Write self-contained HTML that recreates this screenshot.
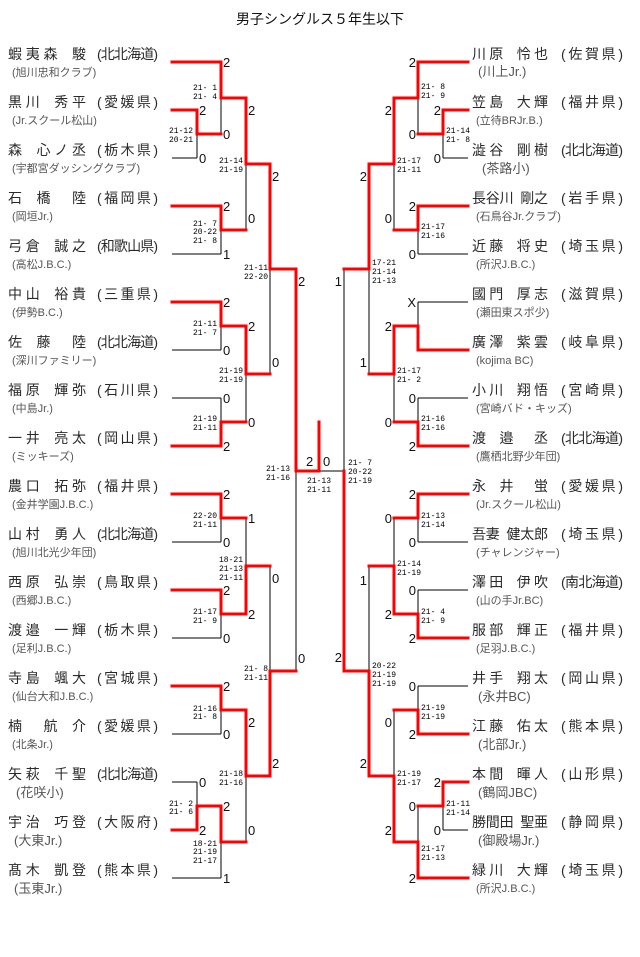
<!DOCTYPE html>
<html><head><meta charset="utf-8"><style>
html,body{margin:0;padding:0;background:#fff;}
svg{display:block;}
.nm{font-family:"Liberation Sans","Noto Sans CJK JP",sans-serif;font-size:14px;fill:#2a2a2a;}
.pf{font-family:"Liberation Sans","Noto Sans CJK JP",sans-serif;font-size:14px;fill:#2a2a2a;}
.cl{font-family:"Liberation Sans","Noto Sans CJK JP",sans-serif;font-size:11px;fill:#555;}
.lb{font-family:"Liberation Sans",sans-serif;font-size:13px;fill:#111;}
.sc{font-family:"Liberation Mono",monospace;font-size:8px;fill:#000;white-space:pre;}
.tt{font-family:"Liberation Sans","Noto Sans CJK JP",sans-serif;font-size:14px;fill:#111;}
</style></head><body>
<svg width="640" height="957" viewBox="0 0 640 957" xmlns="http://www.w3.org/2000/svg">
<text class="tt" x="320" y="24" text-anchor="middle">男子シングルス５年生以下</text>

<g stroke="#000" stroke-width="1" fill="none">
<path d="M172 62H221M172 110H197M172 158H197M172 206H221M172 254H221M172 302H221M172 350H221M172 398H221M172 446H221M172 494H221M172 542H221M172 590H221M172 638H221M172 686H221M172 734H221M172 782H197M172 830H197M172 878H221"/>
<path d="M197 110V158M197 782V830M221 62V134M221 206V254M221 302V350M221 398V446M221 494V542M221 590V638M221 686V734M221 806V878M246 98V230M246 326V422M246 518V614M246 710V842M270 164V374M270 566V776M296 269V671"/>
<path d="M197 134H221M197 806H221M221 98H246M221 230H246M221 326H246M221 422H246M221 518H246M221 614H246M221 710H246M221 842H246M246 164H270M246 374H270M246 566H270M246 776H270M270 269H296M270 671H296M296 471H344"/>
<path d="M468 62H418M468 110H443M468 158H443M468 206H418M468 254H418M468 302H418M468 350H418M468 398H418M468 446H418M468 494H418M468 542H418M468 590H418M468 638H418M468 686H418M468 734H418M468 782H443M468 830H443M468 878H418"/>
<path d="M443 110V158M443 782V830M418 62V134M418 206V254M418 302V350M418 398V446M418 494V542M418 590V638M418 686V734M418 806V878M394 98V230M394 326V422M394 518V614M394 710V842M369 164V374M369 566V776M344 269V671"/>
<path d="M443 134H418M443 806H418M418 98H394M418 230H394M418 326H394M418 422H394M418 518H394M418 614H394M418 710H394M418 842H394M394 164H369M394 374H369M394 566H369M394 776H369M369 269H344M369 671H344"/>
</g>

<g stroke="#f00" stroke-width="3" fill="none" stroke-linejoin="miter" stroke-linecap="square">
<path d="M172 62H221V98H246V164H270V269H296V471H319V422"/>
<path d="M172 110H197V134H221"/>
<path d="M172 206H221V230H246"/>
<path d="M172 302H221V326H246V374H270"/>
<path d="M172 446H221V422H246"/>
<path d="M172 494H221V518H246"/>
<path d="M172 590H221V614H246V566H270"/>
<path d="M172 686H221V710H246V776H270V671H296"/>
<path d="M172 830H197V806H221V842H246"/>
<path d="M468 62H418V98H394V164H369V269H344"/>
<path d="M468 110H443V134H418"/>
<path d="M468 206H418V230H394"/>
<path d="M468 350H418V326H394V374H369"/>
<path d="M468 446H418V422H394"/>
<path d="M468 494H418V518H394"/>
<path d="M468 638H418V614H394V566H369"/>
<path d="M468 734H418V710H394"/>
<path d="M468 782H443V806H418"/>
<path d="M468 878H418V842H394V776H369V671H344V471"/>
</g>

<!-- left names -->
<g>
<text class="nm" x="8" y="59" textLength="78" lengthAdjust="spacing">蝦夷森&#8194;駿</text><text class="pf" x="97" y="59" textLength="61" lengthAdjust="spacing">(北北海道)</text><text class="cl" x="12" y="76">(旭川忠和クラブ)</text>
<text class="nm" x="8" y="107" textLength="78" lengthAdjust="spacing">黒川&#8194;秀平</text><text class="pf" x="97" y="107" textLength="61" lengthAdjust="spacing">(愛媛県)</text><text class="cl" x="12" y="124">(Jr.スクール松山)</text>
<text class="nm" x="8" y="155" textLength="78" lengthAdjust="spacing">森&#8194;心ノ丞</text><text class="pf" x="97" y="155" textLength="61" lengthAdjust="spacing">(栃木県)</text><text class="cl" x="12" y="172">(宇都宮ダッシングクラブ)</text>
<text class="nm" x="8" y="203" textLength="78" lengthAdjust="spacing">石&#8194;橋&#8195;陸</text><text class="pf" x="97" y="203" textLength="61" lengthAdjust="spacing">(福岡県)</text><text class="cl" x="12" y="220">(岡垣Jr.)</text>
<text class="nm" x="8" y="251" textLength="78" lengthAdjust="spacing">弓倉&#8194;誠之</text><text class="pf" x="97" y="251" textLength="61" lengthAdjust="spacing">(和歌山県)</text><text class="cl" x="12" y="268">(高松J.B.C.)</text>
<text class="nm" x="8" y="299" textLength="78" lengthAdjust="spacing">中山&#8194;裕貴</text><text class="pf" x="97" y="299" textLength="61" lengthAdjust="spacing">(三重県)</text><text class="cl" x="12" y="316">(伊勢B.C.)</text>
<text class="nm" x="8" y="347" textLength="78" lengthAdjust="spacing">佐&#8194;藤&#8195;陸</text><text class="pf" x="97" y="347" textLength="61" lengthAdjust="spacing">(北北海道)</text><text class="cl" x="12" y="364">(深川ファミリー)</text>
<text class="nm" x="8" y="395" textLength="78" lengthAdjust="spacing">福原&#8194;輝弥</text><text class="pf" x="97" y="395" textLength="61" lengthAdjust="spacing">(石川県)</text><text class="cl" x="12" y="412">(中島Jr.)</text>
<text class="nm" x="8" y="443" textLength="78" lengthAdjust="spacing">一井&#8194;亮太</text><text class="pf" x="97" y="443" textLength="61" lengthAdjust="spacing">(岡山県)</text><text class="cl" x="12" y="460">(ミッキーズ)</text>
<text class="nm" x="8" y="491" textLength="78" lengthAdjust="spacing">農口&#8194;拓弥</text><text class="pf" x="97" y="491" textLength="61" lengthAdjust="spacing">(福井県)</text><text class="cl" x="12" y="508">(金井学園J.B.C.)</text>
<text class="nm" x="8" y="539" textLength="78" lengthAdjust="spacing">山村&#8194;勇人</text><text class="pf" x="97" y="539" textLength="61" lengthAdjust="spacing">(北北海道)</text><text class="cl" x="12" y="556">(旭川北光少年団)</text>
<text class="nm" x="8" y="587" textLength="78" lengthAdjust="spacing">西原&#8194;弘崇</text><text class="pf" x="97" y="587" textLength="61" lengthAdjust="spacing">(鳥取県)</text><text class="cl" x="12" y="604">(西郷J.B.C.)</text>
<text class="nm" x="8" y="635" textLength="78" lengthAdjust="spacing">渡邉&#8194;一輝</text><text class="pf" x="97" y="635" textLength="61" lengthAdjust="spacing">(栃木県)</text><text class="cl" x="12" y="652">(足利J.B.C.)</text>
<text class="nm" x="8" y="683" textLength="78" lengthAdjust="spacing">寺島&#8194;颯大</text><text class="pf" x="97" y="683" textLength="61" lengthAdjust="spacing">(宮城県)</text><text class="cl" x="12" y="700">(仙台大和J.B.C.)</text>
<text class="nm" x="8" y="731" textLength="78" lengthAdjust="spacing">楠&#8195;航&#8194;介</text><text class="pf" x="97" y="731" textLength="61" lengthAdjust="spacing">(愛媛県)</text><text class="cl" x="12" y="748">(北条Jr.)</text>
<text class="nm" x="8" y="779" textLength="78" lengthAdjust="spacing">矢萩&#8194;千聖</text><text class="pf" x="97" y="779" textLength="61" lengthAdjust="spacing">(北北海道)</text><text class="cl" x="16" y="797" style="font-size:13px">(花咲小)</text>
<text class="nm" x="8" y="827" textLength="78" lengthAdjust="spacing">宇治&#8194;巧登</text><text class="pf" x="97" y="827" textLength="61" lengthAdjust="spacing">(大阪府)</text><text class="cl" x="14" y="845" style="font-size:13px">(大東Jr.)</text>
<text class="nm" x="8" y="875" textLength="78" lengthAdjust="spacing">髙木&#8194;凱登</text><text class="pf" x="97" y="875" textLength="61" lengthAdjust="spacing">(熊本県)</text><text class="cl" x="14" y="893" style="font-size:13px">(玉東Jr.)</text>
</g>

<!-- right names -->
<g>
<text class="nm" x="472" y="59" textLength="76" lengthAdjust="spacing">川原&#8194;怜也</text><text class="pf" x="561" y="59" textLength="62" lengthAdjust="spacing">(佐賀県)</text><text class="cl" x="478" y="76" style="font-size:13px">(川上Jr.)</text>
<text class="nm" x="472" y="107" textLength="76" lengthAdjust="spacing">笠島&#8194;大輝</text><text class="pf" x="561" y="107" textLength="62" lengthAdjust="spacing">(福井県)</text><text class="cl" x="476" y="124">(立待BRJr.B.)</text>
<text class="nm" x="472" y="155" textLength="76" lengthAdjust="spacing">澁谷&#8194;剛樹</text><text class="pf" x="561" y="155" textLength="62" lengthAdjust="spacing">(北北海道)</text><text class="cl" x="482" y="173" style="font-size:13px">(茶路小)</text>
<text class="nm" x="472" y="203" textLength="76" lengthAdjust="spacing">長谷川&#8194;剛之</text><text class="pf" x="561" y="203" textLength="62" lengthAdjust="spacing">(岩手県)</text><text class="cl" x="476" y="220">(石鳥谷Jr.クラブ)</text>
<text class="nm" x="472" y="251" textLength="76" lengthAdjust="spacing">近藤&#8194;将史</text><text class="pf" x="561" y="251" textLength="62" lengthAdjust="spacing">(埼玉県)</text><text class="cl" x="476" y="268">(所沢J.B.C.)</text>
<text class="nm" x="472" y="299" textLength="76" lengthAdjust="spacing">國門&#8194;厚志</text><text class="pf" x="561" y="299" textLength="62" lengthAdjust="spacing">(滋賀県)</text><text class="cl" x="476" y="316">(瀬田東スポ少)</text>
<text class="nm" x="472" y="347" textLength="76" lengthAdjust="spacing">廣澤&#8194;紫雲</text><text class="pf" x="561" y="347" textLength="62" lengthAdjust="spacing">(岐阜県)</text><text class="cl" x="476" y="364">(kojima BC)</text>
<text class="nm" x="472" y="395" textLength="76" lengthAdjust="spacing">小川&#8194;翔悟</text><text class="pf" x="561" y="395" textLength="62" lengthAdjust="spacing">(宮崎県)</text><text class="cl" x="476" y="412">(宮崎バド・キッズ)</text>
<text class="nm" x="472" y="443" textLength="76" lengthAdjust="spacing">渡&#8194;邉&#8195;丞</text><text class="pf" x="561" y="443" textLength="62" lengthAdjust="spacing">(北北海道)</text><text class="cl" x="476" y="460">(鷹栖北野少年団)</text>
<text class="nm" x="472" y="491" textLength="76" lengthAdjust="spacing">永&#8194;井&#8195;蛍</text><text class="pf" x="561" y="491" textLength="62" lengthAdjust="spacing">(愛媛県)</text><text class="cl" x="476" y="508">(Jr.スクール松山)</text>
<text class="nm" x="472" y="539" textLength="76" lengthAdjust="spacing">吾妻&#8194;健太郎</text><text class="pf" x="561" y="539" textLength="62" lengthAdjust="spacing">(埼玉県)</text><text class="cl" x="476" y="556">(チャレンジャー)</text>
<text class="nm" x="472" y="587" textLength="76" lengthAdjust="spacing">澤田&#8194;伊吹</text><text class="pf" x="561" y="587" textLength="62" lengthAdjust="spacing">(南北海道)</text><text class="cl" x="476" y="604">(山の手Jr.BC)</text>
<text class="nm" x="472" y="635" textLength="76" lengthAdjust="spacing">服部&#8194;輝正</text><text class="pf" x="561" y="635" textLength="62" lengthAdjust="spacing">(福井県)</text><text class="cl" x="476" y="652">(足羽J.B.C.)</text>
<text class="nm" x="472" y="683" textLength="76" lengthAdjust="spacing">井手&#8194;翔太</text><text class="pf" x="561" y="683" textLength="62" lengthAdjust="spacing">(岡山県)</text><text class="cl" x="478" y="701" style="font-size:13px">(永井BC)</text>
<text class="nm" x="472" y="731" textLength="76" lengthAdjust="spacing">江藤&#8194;佑太</text><text class="pf" x="561" y="731" textLength="62" lengthAdjust="spacing">(熊本県)</text><text class="cl" x="478" y="749" style="font-size:13px">(北部Jr.)</text>
<text class="nm" x="472" y="779" textLength="76" lengthAdjust="spacing">本間&#8194;暉人</text><text class="pf" x="561" y="779" textLength="62" lengthAdjust="spacing">(山形県)</text><text class="cl" x="478" y="797" style="font-size:13px">(鶴岡JBC)</text>
<text class="nm" x="472" y="827" textLength="76" lengthAdjust="spacing">勝間田&#8194;聖亜</text><text class="pf" x="561" y="827" textLength="62" lengthAdjust="spacing">(静岡県)</text><text class="cl" x="478" y="845" style="font-size:13px">(御殿場Jr.)</text>
<text class="nm" x="472" y="875" textLength="76" lengthAdjust="spacing">緑川&#8194;大輝</text><text class="pf" x="561" y="875" textLength="62" lengthAdjust="spacing">(埼玉県)</text><text class="cl" x="476" y="892">(所沢J.B.C.)</text>
</g>

<g class="lb">
<text x="223" y="67">2</text><text x="223" y="139">0</text><text x="199" y="115">2</text><text x="199" y="163">0</text>
<text x="248" y="115">2</text><text x="248" y="223">0</text><text x="223" y="211">2</text><text x="223" y="259">1</text>
<text x="272" y="181">2</text><text x="272" y="367">0</text><text x="298" y="286">2</text><text x="298" y="663">0</text>
<text x="223" y="307">2</text><text x="223" y="355">0</text><text x="248" y="331">2</text><text x="248" y="427">0</text>
<text x="223" y="403">0</text><text x="223" y="451">2</text><text x="223" y="499">2</text><text x="223" y="547">0</text>
<text x="248" y="523">1</text><text x="248" y="619">2</text><text x="223" y="595">2</text><text x="223" y="643">0</text>
<text x="272" y="583">0</text><text x="272" y="768">2</text><text x="223" y="691">2</text><text x="223" y="739">0</text>
<text x="248" y="727">2</text><text x="248" y="835">0</text><text x="199" y="787">0</text><text x="199" y="835">2</text>
<text x="223" y="811">2</text><text x="223" y="883">1</text>
<text x="306" y="466">2</text><text x="323" y="466">0</text>
</g>
<g class="lb" text-anchor="end">
<text x="416" y="67">2</text><text x="416" y="139">0</text><text x="441" y="115">2</text><text x="441" y="163">0</text>
<text x="392" y="115">2</text><text x="392" y="223">0</text><text x="416" y="211">2</text><text x="416" y="259">0</text>
<text x="367" y="181">2</text><text x="367" y="367">1</text><text x="342" y="286">1</text><text x="342" y="662">2</text>
<text x="416" y="307">X</text><text x="392" y="331">2</text><text x="392" y="427">0</text>
<text x="416" y="403">0</text><text x="416" y="451">2</text><text x="416" y="499">2</text><text x="416" y="547">0</text>
<text x="392" y="523">0</text><text x="392" y="619">2</text><text x="416" y="595">0</text><text x="416" y="643">2</text>
<text x="367" y="585">1</text><text x="367" y="768">2</text><text x="416" y="691">0</text><text x="416" y="739">2</text>
<text x="392" y="727">0</text><text x="392" y="835">2</text><text x="441" y="787">2</text><text x="441" y="835">0</text>
<text x="416" y="811">0</text><text x="416" y="883">2</text>
</g>

<g class="sc" text-anchor="end">
<text x="193" y="133">21-12</text><text x="193" y="142">20-21</text>
<text x="217" y="90">21- 1</text><text x="217" y="99">21- 4</text>
<text x="217" y="226">21- 7</text><text x="217" y="234">20-22</text><text x="217" y="243">21- 8</text>
<text x="243" y="163">21-14</text><text x="243" y="172">21-19</text>
<text x="268" y="270">21-11</text><text x="268" y="279">22-20</text>
<text x="217" y="326">21-11</text><text x="217" y="335">21- 7</text>
<text x="243" y="373">21-19</text><text x="243" y="382">21-19</text>
<text x="217" y="421">21-19</text><text x="217" y="430">21-11</text>
<text x="290" y="471">21-13</text><text x="290" y="480">21-16</text>
<text x="217" y="518">22-20</text><text x="217" y="527">21-11</text>
<text x="243" y="562">18-21</text><text x="243" y="571">21-13</text><text x="243" y="580">21-11</text>
<text x="217" y="614">21-17</text><text x="217" y="623">21- 9</text>
<text x="268" y="671">21- 8</text><text x="268" y="680">21-11</text>
<text x="217" y="711">21-16</text><text x="217" y="719">21- 8</text>
<text x="243" y="776">21-18</text><text x="243" y="785">21-16</text>
<text x="193" y="806">21- 2</text><text x="193" y="814">21- 6</text>
<text x="217" y="846">18-21</text><text x="217" y="854">21-19</text><text x="217" y="863">21-17</text>
</g>
<g class="sc">
<text x="307" y="483">21-13</text><text x="307" y="492">21-11</text>
<text x="348" y="465">21- 7</text><text x="348" y="474">20-22</text><text x="348" y="483">21-19</text>
<text x="421" y="89">21- 8</text><text x="421" y="98">21- 9</text>
<text x="446" y="133">21-14</text><text x="446" y="142">21- 8</text>
<text x="397" y="163">21-17</text><text x="397" y="172">21-11</text>
<text x="421" y="229">21-17</text><text x="421" y="238">21-16</text>
<text x="372" y="265">17-21</text><text x="372" y="274">21-14</text><text x="372" y="283">21-13</text>
<text x="397" y="373">21-17</text><text x="397" y="382">21- 2</text>
<text x="421" y="421">21-16</text><text x="421" y="430">21-16</text>
<text x="421" y="518">21-13</text><text x="421" y="527">21-14</text>
<text x="397" y="566">21-14</text><text x="397" y="575">21-19</text>
<text x="421" y="614">21- 4</text><text x="421" y="623">21- 9</text>
<text x="372" y="668">20-22</text><text x="372" y="677">21-19</text><text x="372" y="686">21-19</text>
<text x="421" y="710">21-19</text><text x="421" y="719">21-19</text>
<text x="397" y="776">21-19</text><text x="397" y="785">21-17</text>
<text x="446" y="806">21-11</text><text x="446" y="815">21-14</text>
<text x="421" y="851">21-17</text><text x="421" y="860">21-13</text>
</g>
</svg>
</body></html>
